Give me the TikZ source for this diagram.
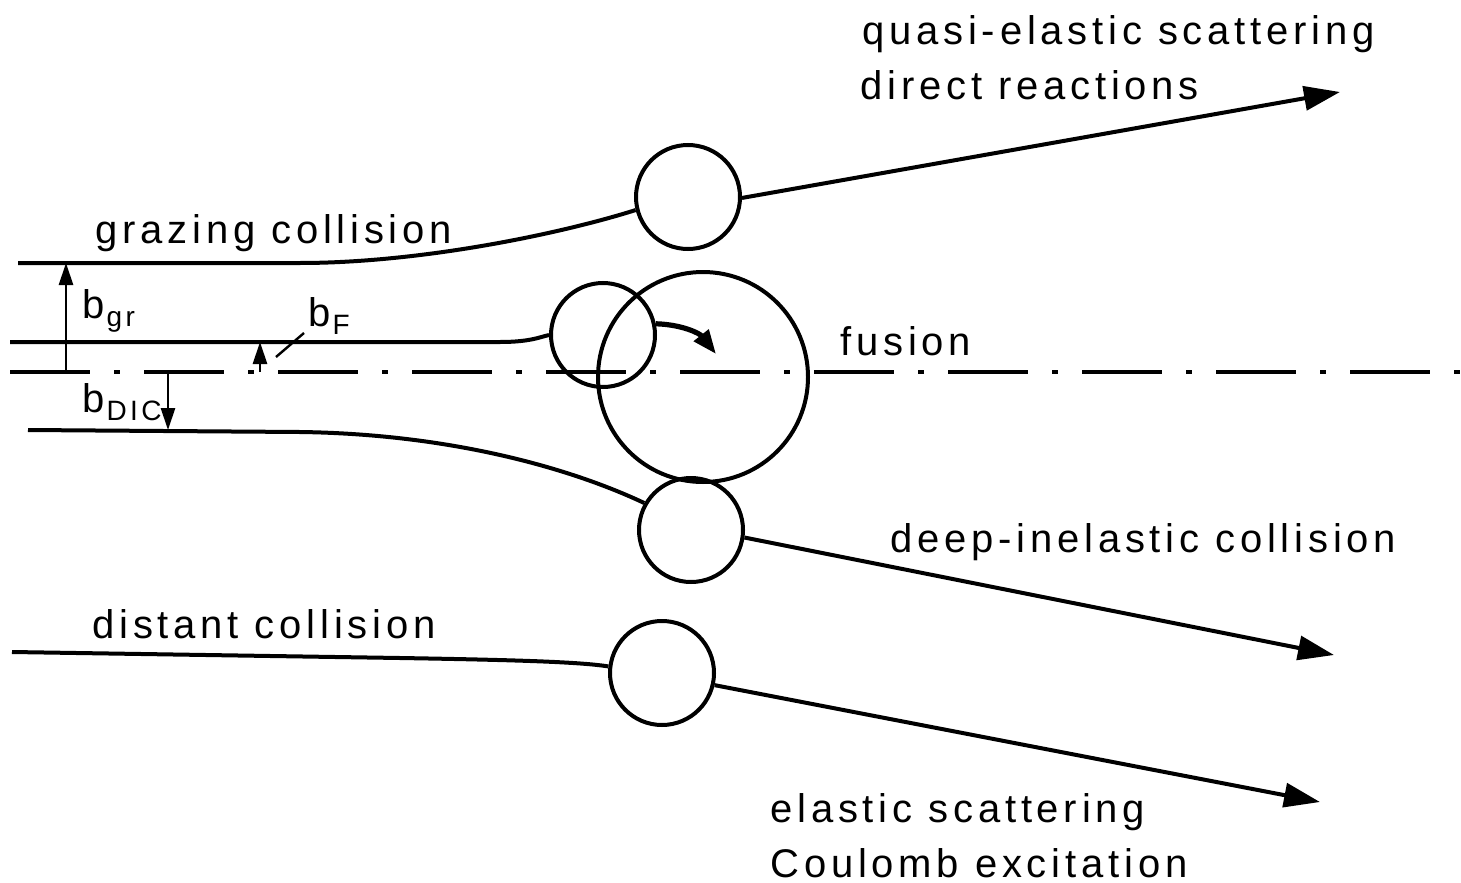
\documentclass[tikz,border=0pt]{standalone}
\usepackage{fontspec}
\setmainfont{Liberation Sans}[LetterSpace=12]
\usetikzlibrary{arrows.meta,positioning}

\newcommand{\bsub}[1]{b\kern1pt\lower4pt\hbox{\fontsize{14}{16}\selectfont #1}}

\begin{document}
\begin{tikzpicture}[x=0.5pt, y=-0.5pt,
  nucleus/.style={draw, circle, line width=2pt, minimum size=52pt, inner sep=0pt},
  orbit/.style={line width=2pt},
  outarrow/.style={orbit, -{Triangle[length=18pt, width=12pt]}},
  barrow/.style={line width=1.4pt, -{Triangle[length=11pt, width=7pt]}},
  lbl/.style={anchor=base west, inner sep=0pt, font=\fontsize{20}{24}\selectfont}
]
\useasboundingbox (0,0) rectangle (1461,883);

% symmetry axis
\draw[line width=1.6pt, dash pattern=on 40pt off 12pt on 3pt off 12pt] (10,372) -- (1461,372);

% nuclei
\node[nucleus] (qe) at (688,197) {};
\node[nucleus] (proj) at (603,335) {};
\node[nucleus, minimum size=105pt] (cn) at (703,377) {};
\node[nucleus] (dic) at (691,530) {};
\node[nucleus] (dist) at (662,673) {};

% start and end points
\coordinate (gr0) at (18,263);
\coordinate (fu0) at (10,342);
\coordinate (dc0) at (28,430);
\coordinate (ds0) at (12,652);
\coordinate (qeend) at (1340,92);
\coordinate (dcend) at (1334,655);
\coordinate (dsend) at (1320,802);
\coordinate (fuend) at (716,354);

% trajectories
\draw[orbit] (gr0) -- (300,263) .. controls (420,263) and (560,234) .. (qe.194);
\draw[outarrow] (qe.-1) -- (qeend);
\draw[orbit] (fu0) -- (500,342) .. controls (530,342) and (540,337) .. (proj.180);
\draw[line width=2.6pt, -{Triangle[length=12pt, width=9pt]}] (proj.12) to[bend left=25] (fuend);
\draw[orbit] (dc0) -- (300,432) .. controls (450,434) and (570,468) .. (dic.150);
\draw[outarrow] (dic.-8) -- (dcend);
\draw[orbit] (ds0) -- (400,658) .. controls (520,660) and (580,662) .. (dist.173);
\draw[outarrow] (dist.-13) -- (dsend);

% impact parameters
\coordinate (bgr0) at (66,372);
\coordinate (bgr1) at (66,263);
\coordinate (bf0) at (260,372);
\coordinate (bf1) at (260,342);
\coordinate (bd0) at (168,372);
\coordinate (bd1) at (168,430);
\draw[barrow] (bgr0) -- (bgr1);
\draw[barrow] (bf0) -- (bf1);
\draw[barrow] (bd0) -- (bd1);
\node[lbl] (bgr) at (82,318) {\bsub{gr}};
\node[lbl] (bf) at (308,326) {\bsub{F}};
\node[lbl] (bdic) at (82,412) {\bsub{DIC}};
\coordinate (bfl0) at (276,357);
\coordinate (bfl1) at (304,333);
\draw[line width=1.2pt] (bfl0) -- (bfl1);

% labels
\node[lbl] (lqe) at (862,45) {quasi-elastic scattering};
\node[lbl] (ldr) at (860,100) {direct reactions};
\node[lbl] (lgr) at (95,243) {grazing collision};
\node[lbl] (lfu) at (840,355) {fusion};
\node[lbl] (ldc) at (890,552) {deep-inelastic collision};
\node[lbl] (lds) at (92,638) {distant collision};
\node[lbl] (lel) at (770,822) {elastic scattering};
\node[lbl] (lco) at (770,877) {Coulomb excitation};
\end{tikzpicture}
\end{document}
